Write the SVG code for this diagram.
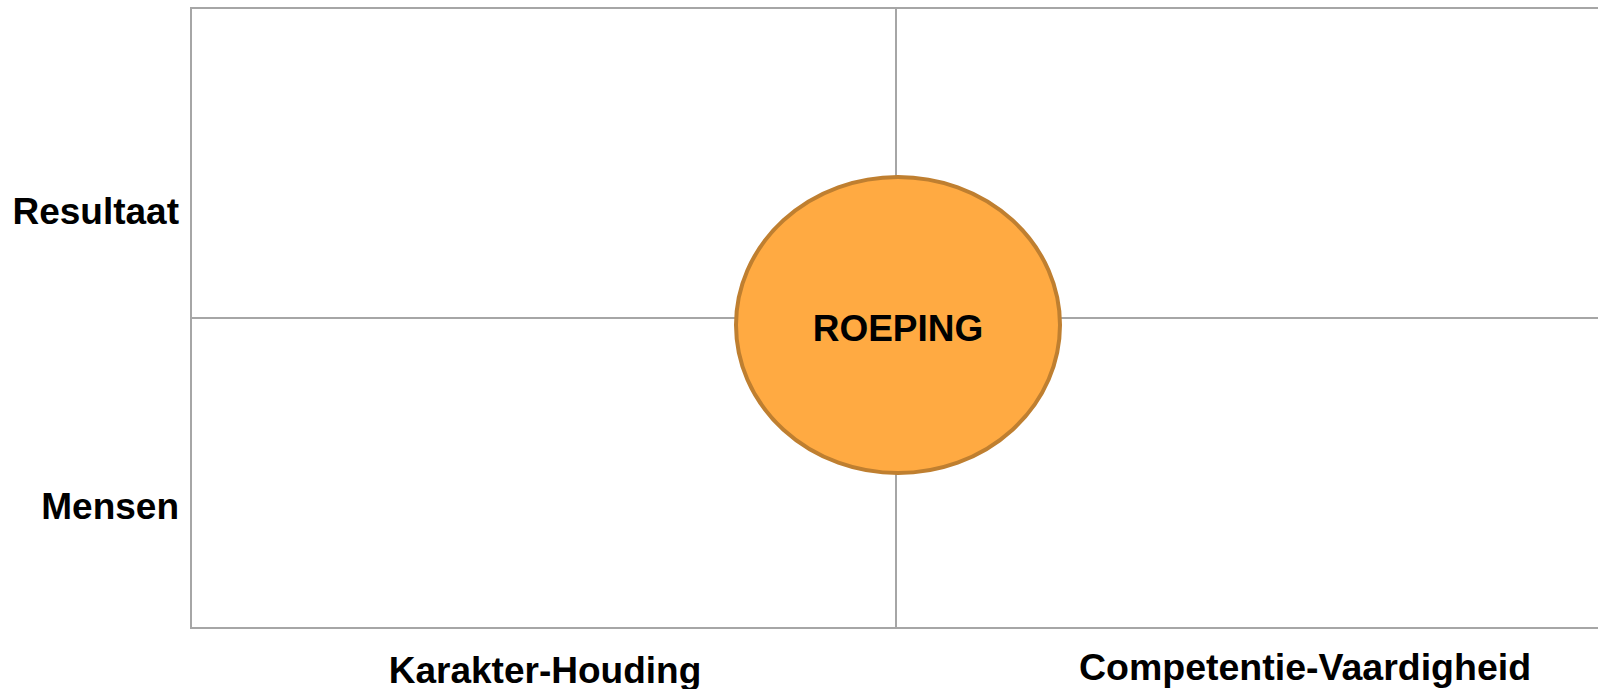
<svg xmlns="http://www.w3.org/2000/svg" width="1598" height="689" viewBox="0 0 1598 689">
<style>
.grid{stroke:#a6a6a6;stroke-width:2;fill:none}
.lbl{font-family:"Liberation Sans",Arial,sans-serif;font-weight:bold;font-size:37px;fill:#000}
</style>
<rect width="1598" height="689" fill="#ffffff"/>
<g id="connectors">
<path class="grid" d="M1598 8 H191 V628 H1598"/>
<line class="grid" x1="191" y1="318" x2="1598" y2="318"/>
<line class="grid" x1="896" y1="8" x2="896" y2="628"/>
</g>
<g id="roeping">
<ellipse cx="898" cy="325" rx="162" ry="148" fill="#ffaa42" stroke="#bf7f30" stroke-width="4"/>
<text class="lbl" x="898" y="341" text-anchor="middle">ROEPING</text>
</g>
<g id="resultaat"><text class="lbl" x="179" y="224" text-anchor="end">Resultaat</text></g>
<g id="mensen"><text class="lbl" x="179" y="519" text-anchor="end">Mensen</text></g>
<g id="karakter"><text class="lbl" x="545" y="683" text-anchor="middle">Karakter-Houding</text></g>
<g id="competentie"><text class="lbl" x="1305" y="680" text-anchor="middle" style="font-size:37.5px">Competentie-Vaardigheid</text></g>
</svg>
